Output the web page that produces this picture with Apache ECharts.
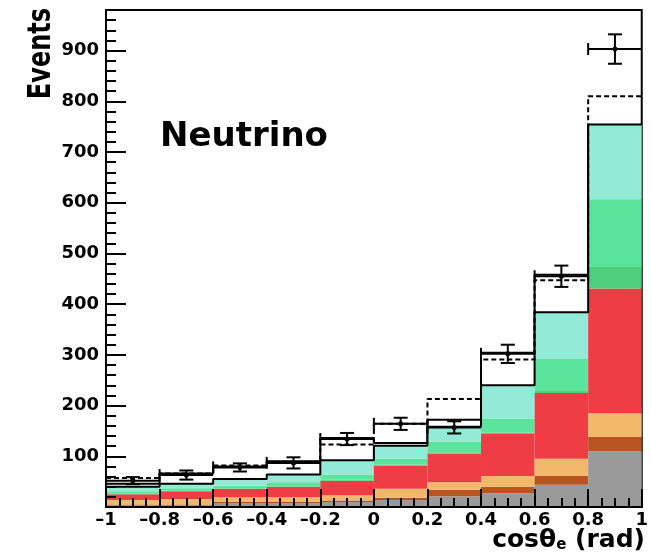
<!DOCTYPE html>
<html>
<head>
<meta charset="utf-8">
<script src="https://cdn.jsdelivr.net/npm/echarts@6/dist/echarts.min.js"></script>
<style>
html, body { margin: 0; padding: 0; background: #fff; }
#chart { width: 651px; height: 557px; }
</style>
</head>
<body>
<div id="chart"></div>
<script>
// bin edges of cos(theta_e)
var binEdges = [-1, -0.8, -0.6, -0.4, -0.2, 0, 0.2, 0.4, 0.6, 0.8, 1];

// stacked components, bottom to top (events per bin)
var grayVals    = [3, 3, 8, 7, 10, 14, 21, 27, 44, 110];
var brownVals   = [2, 2, 2, 3, 3, 4, 13, 13, 17, 28];
var orangeVals  = [9, 11, 9, 9, 10, 18, 15, 21, 34, 47];
var redVals     = [11, 15, 17, 21, 29, 46, 56, 83, 130, 246];
var dkGreenVals = [1, 1, 1, 1, 2, 2, 3, 3, 5, 42];
var greenVals   = [5, 5, 5, 8, 10, 11, 21, 27, 62, 134];
var tealVals    = [9, 9, 13, 15, 28, 26, 29, 66, 92, 147];

// other histograms
var solidVals  = [46, 66, 80, 90, 136, 126, 172, 304, 458, 750];
var dashedVals = [57, 66, 82, 89, 123, 164, 213, 291, 447, 810];

// data points
var dataVals = [52, 63, 78, 87, 134, 164, 157, 302, 455, 903];
var dataErr  = [7, 9, 8, 11, 12, 12, 12, 18, 21, 29];

// tick labels
var xTickValues = [-1, -0.8, -0.6, -0.4, -0.2, 0, 0.2, 0.4, 0.6, 0.8, 1];
var yTickValues = [0, 100, 200, 300, 400, 500, 600, 700, 800, 900];

var layers = [grayVals, brownVals, orangeVals, redVals, dkGreenVals, greenVals, tealVals];
var layerColors = ['#9a9a9a', '#b8541f', '#f2b86c', '#ee3d44', '#4fcf7c', '#5be49b', '#93ead6'];

var stackData = [];
var stackTop = [];
for (var i = 0; i < 10; i++) {
	var row = [binEdges[i], binEdges[i + 1]];
	var tot = 0;
	for (var k = 0; k < layers.length; k++) {
		row.push(layers[k][i]);
		tot += layers[k][i];
	}
	stackData.push(row);
	stackTop.push(tot);
}

function stepData(vals) {
	var d = [];
	for (var i = 0; i < vals.length; i++) {
		d.push([binEdges[i], vals[i]]);
	}
	d.push([binEdges[vals.length], vals[vals.length - 1]]);
	return d;
}

var pointData = [];
for (var i = 0; i < 10; i++) {
	pointData.push([binEdges[i], binEdges[i + 1], dataVals[i], dataErr[i]]);
}

var FONT = '"DejaVu Sans", sans-serif';

var chart = echarts.init(document.getElementById('chart'));
var option = {
	animation : false,
	backgroundColor : '#fff',
	grid : {
		left : 106,
		right : 6,
		top : 10,
		bottom : 50,
		show : true,
		borderColor : '#000',
		borderWidth : 2,
		backgroundColor : 'transparent'
	},
	xAxis : {
		type : 'value',
		z : 10,
		min : -1,
		max : 1,
		interval : 0.2,
		axisLine : { onZero : false, lineStyle : { color : '#000', width : 2 } },
		axisTick : { inside : true, length : 18, lineStyle : { color : '#000', width : 2 } },
		minorTick : { show : true, splitNumber : 4, length : 9, lineStyle : { color : '#000', width : 2 } },
		splitLine : { show : false },
		axisLabel : {
			customValues : xTickValues,
			color : '#000',
			fontFamily : FONT,
			fontWeight : 'bold',
			fontSize : 18,
			margin : 4,
			formatter : function(v) {
				var r = Math.round(v * 10) / 10;
				return r < 0 ? '\u2013' + Math.abs(r) : String(r);
			}
		}
	},
	yAxis : {
		type : 'value',
		z : 10,
		min : 0,
		max : 980,
		interval : 100,
		axisLine : { onZero : false, lineStyle : { color : '#000', width : 2 } },
		axisTick : { inside : true, length : 20, customValues : yTickValues, lineStyle : { color : '#000', width : 2 } },
		minorTick : { show : true, splitNumber : 5, length : 10, lineStyle : { color : '#000', width : 2 } },
		splitLine : { show : false },
		axisLabel : {
			customValues : yTickValues.slice(1),
			color : '#000',
			fontFamily : FONT,
			fontWeight : 'bold',
			fontSize : 18,
			margin : 7
		}
	},
	graphic : [
		{
			type : 'text', x : 160, y : 137, z : 100,
			style : { text : 'Neutrino', fontFamily : FONT, fontWeight : 'bold', fontSize : 34, fill : '#000', align : 'left', verticalAlign : 'middle' }
		},
		{
			type : 'text', x : 42, y : 8, rotation : Math.PI / 2, scaleY : 1.3, z : 100,
			style : { text : 'Events', fontFamily : FONT, fontWeight : 'bold', fontSize : 24, fill : '#000', align : 'right', verticalAlign : 'middle' }
		},
		{
			type : 'text', x : 645, y : 540, z : 100,
			style : {
				text : '{m|cos\u03b8}{s|e}{m| (rad)}',
				align : 'right', verticalAlign : 'middle', fill : '#000',
				rich : {
					m : { fontFamily : FONT, fontWeight : 'bold', fontSize : 25, fill : '#000' },
					s : { fontFamily : FONT, fontWeight : 'bold', fontSize : 15, fill : '#000', verticalAlign : 'bottom' }
				}
			}
		}
	],
	series : [
		{
			name : 'total',
			type : 'line',
			step : 'end',
			z : 1,
			showSymbol : false,
			silent : true,
			data : stepData(solidVals),
			lineStyle : { color : '#000', width : 2 }
		},
		{
			name : 'stack',
			type : 'custom',
			z : 2,
			silent : true,
			encode : { x : [0, 1], y : 2 },
			data : stackData,
			renderItem : function(params, api) {
				var x0 = api.value(0), x1 = api.value(1);
				var base = 0, children = [];
				for (var k = 0; k < layerColors.length; k++) {
					var v = api.value(k + 2);
					var p0 = api.coord([x0, base]);
					var p1 = api.coord([x1, base + v]);
					children.push({
						type : 'rect',
						shape : { x : p0[0], y : p1[1], width : p1[0] - p0[0], height : p0[1] - p1[1] },
						style : { fill : layerColors[k] }
					});
					base += v;
				}
				return { type : 'group', children : children };
			}
		},
		{
			name : 'stackOutline',
			type : 'line',
			step : 'end',
			z : 3,
			showSymbol : false,
			silent : true,
			data : stepData(stackTop),
			lineStyle : { color : '#000', width : 2 }
		},
		{
			name : 'dashed',
			type : 'line',
			step : 'end',
			z : 4,
			showSymbol : false,
			silent : true,
			data : stepData(dashedVals),
			lineStyle : { color : '#000', width : 2, type : [5, 3] }
		},
		{
			name : 'data',
			type : 'custom',
			z : 5,
			silent : true,
			encode : { x : [0, 1], y : 2 },
			data : pointData,
			renderItem : function(params, api) {
				var x0 = api.value(0), x1 = api.value(1);
				var v = api.value(2), e = api.value(3);
				var pL = api.coord([x0, v]);
				var pR = api.coord([x1, v]);
				var pT = api.coord([(x0 + x1) / 2, v + e]);
				var pB = api.coord([(x0 + x1) / 2, v - e]);
				var cx = pT[0];
				var ls = { stroke : '#000', lineWidth : 2 };
				return {
					type : 'group',
					children : [
						{ type : 'line', shape : { x1 : pL[0], y1 : pL[1], x2 : pR[0], y2 : pR[1] }, style : ls },
						{ type : 'line', shape : { x1 : pL[0], y1 : pL[1] - 6, x2 : pL[0], y2 : pL[1] + 6 }, style : ls },
						{ type : 'line', shape : { x1 : cx, y1 : pT[1], x2 : cx, y2 : pB[1] }, style : ls },
						{ type : 'line', shape : { x1 : cx - 7, y1 : pT[1], x2 : cx + 7, y2 : pT[1] }, style : ls },
						{ type : 'line', shape : { x1 : cx - 7, y1 : pB[1], x2 : cx + 7, y2 : pB[1] }, style : ls },
						{ type : 'circle', shape : { cx : cx, cy : pL[1], r : 2.5 }, style : { fill : '#000' } }
					]
				};
			}
		}
	]
};
chart.setOption(option);
</script>
</body>
</html>
